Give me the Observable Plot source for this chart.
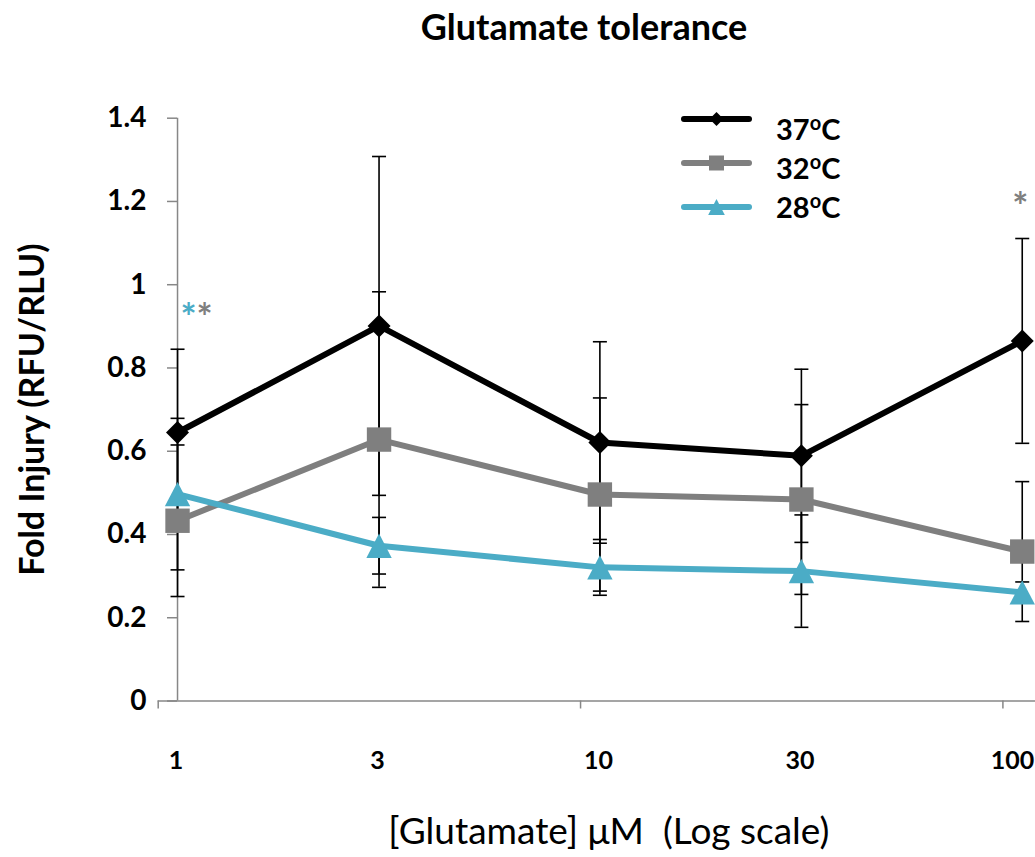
<!DOCTYPE html>
<html><head><meta charset="utf-8">
<script src="https://cdn.jsdelivr.net/npm/d3@7"></script>
<script src="https://cdn.jsdelivr.net/npm/@observablehq/plot@0.6"></script>
<style>
body{margin:0;background:#fff;font-family:Lato,sans-serif;}
#title{height:60px;width:1035px;font-weight:bold;font-size:36px;text-align:center;line-height:52px;padding-left:133px;box-sizing:border-box;color:#000;}
</style></head><body>
<div id="title">Glutamate tolerance</div>
<div id="chart"></div>
<script>
// ---- data ----
const doses = [1, 3, 10, 30, 100];
const doseLabels = ["1", "3", "10", "30", "100"];
const seriesNames = ["37", "32", "28"];
const seriesColors = ["#000000", "#7f7f7f", "#4bacc6"];
const mean37 = [0.645, 0.901, 0.621, 0.589, 0.865];
const err37  = [0.200, 0.407, 0.242, 0.208, 0.246];
const mean32 = [0.433, 0.628, 0.496, 0.484, 0.359];
const err32  = [0.182, 0.355, 0.232, 0.228, 0.168];
const mean28 = [0.497, 0.373, 0.321, 0.312, 0.261];
const err28  = [0.182, 0.068, 0.067, 0.135, 0.025];
const yTicks = [0, 0.2, 0.4, 0.6, 0.8, 1.0, 1.2, 1.4];
const xAxisTicks = [0.9, 9, 90];
const sigDose = [1, 1, 100];
const sigSeries = ["28", "32", "32"];
const yTitle = "Fold Injury (RFU/RLU)";
const xTitle = "[Glutamate] \u03bcM \u00a0(Log scale)";

// ---- symbols ----
const rad = size => Math.sqrt(size / Math.PI);
const diamondSym = {draw(ctx, size) { const h = rad(size); ctx.moveTo(0, -h); ctx.lineTo(h, 0); ctx.lineTo(0, h); ctx.lineTo(-h, 0); ctx.closePath(); }};
const squareSym = {draw(ctx, size) { const h = rad(size); ctx.rect(-h, -h, 2 * h, 2 * h); }};
const triangleSym = {draw(ctx, size) { const h = rad(size); ctx.moveTo(0, -h); ctx.lineTo(h * 1.04, h); ctx.lineTo(-h * 1.04, h); ctx.closePath(); }};
const capSym = {draw(ctx, size) { const h = rad(size); ctx.moveTo(-h, 0); ctx.lineTo(h, 0); }};
const symbols = [diamondSym, squareSym, triangleSym];
const markerR = [11.5, 12.2, 12.2];
const legendR = [7, 7.5, 8];

const means = [mean37, mean32, mean28];
const errs = [err37, err32, err28];
const rows = [];
seriesNames.forEach((s, si) => doses.forEach((d, i) => rows.push({series: s, si, dose: d, mean: means[si][i], err: errs[si][i]})));

// significance stars
const sig = sigDose.map((d, k) => {
  const i = doses.indexOf(d);
  const top = d3.max(means, (m, si) => m[i] + errs[si][i]);
  const same = sigDose.filter(x => x === d).length;
  const rank = sigDose.slice(0, k).filter(x => x === d).length;
  return {dose: d, y: top + 0.095, color: seriesColors[seriesNames.indexOf(sigSeries[k])], dx: same > 1 ? 11 + 16 * rank : -2};
});

const axisGray = "#878787";
const xShift = 19.3; // y axis crosses at dose 1
const lastDose = doses[doses.length - 1];
const marks = [];
// axis lines
marks.push(Plot.ruleY([0], {x1: 0.9, x2: 107.5, stroke: axisGray, strokeWidth: 1.5}));
marks.push(Plot.ruleX([1], {y1: 0, y2: 1.4, stroke: axisGray, strokeWidth: 1.5}));
marks.push(Plot.axisY(yTicks, {label: null, dx: xShift, tickSize: 10, tickPadding: 21, stroke: axisGray, strokeWidth: 1.5, fill: "#000", fontSize: 28, fontWeight: "bold", fontFamily: "Lato", tickFormat: d => String(+d.toFixed(1))}));
marks.push(Plot.axisX(xAxisTicks, {label: null, tickSize: 8, stroke: axisGray, strokeWidth: 1.5, tickFormat: () => ""}));
marks.push(Plot.axisX(doses.filter(d => d !== lastDose), {label: null, tickSize: 0, tickPadding: 50, dx: -1.5, fill: "#000", fontSize: 25, fontWeight: "bold", fontFamily: "Lato", tickFormat: d => doseLabels[doses.indexOf(d)]}));
marks.push(Plot.axisX([lastDose], {label: null, tickSize: 0, tickPadding: 50, dx: 12, textAnchor: "end", fill: "#000", fontSize: 25, fontWeight: "bold", fontFamily: "Lato", tickFormat: d => doseLabels[doses.indexOf(d)]}));
// error bars
marks.push(Plot.ruleX(rows, {x: "dose", y1: d => d.mean - d.err, y2: d => d.mean + d.err, stroke: "#000", strokeWidth: 1.6}));
marks.push(Plot.dot(rows, {x: "dose", y: d => d.mean - d.err, symbol: capSym, r: 7, fill: "none", stroke: "#000", strokeWidth: 1.6}));
marks.push(Plot.dot(rows, {x: "dose", y: d => d.mean + d.err, symbol: capSym, r: 7, fill: "none", stroke: "#000", strokeWidth: 1.6}));
// series
seriesNames.forEach((s, si) => {
  const data = rows.filter(r => r.series === s);
  marks.push(Plot.line(data, {x: "dose", y: "mean", stroke: seriesColors[si], strokeWidth: 6, strokeLinejoin: "round"}));
  marks.push(Plot.dot(data, {x: "dose", y: "mean", symbol: symbols[si], r: markerR[si], fill: seriesColors[si], stroke: "none"}));
});
// stars
sig.forEach(s => {
  marks.push(Plot.text([s], {x: "dose", y: "y", text: () => "*", fill: s.color, dx: s.dx, dy: 9, fontSize: 38, fontFamily: "Lato", fontWeight: "bold"}));
});
// titles
marks.push(Plot.text([yTitle], {frameAnchor: "left", textAnchor: "middle", lineAnchor: "middle", rotate: -90, dx: -125, fontSize: 34, fontWeight: "bold", fontFamily: "Lato", fill: "#000"}));
marks.push(Plot.text([xTitle], {frameAnchor: "bottom", textAnchor: "middle", lineAnchor: "middle", dy: 131.5, dx: 12, fontSize: 37, fontFamily: "Lato", fill: "#000"}));
// legend
marks.push(() => {
  const g = d3.create("svg:g");
  const lineY = [59, 103, 147];
  const textY = [70, 109, 148];
  seriesNames.forEach((s, si) => {
    g.append("line").attr("x1", 684).attr("x2", 749).attr("y1", lineY[si]).attr("y2", lineY[si])
      .attr("stroke", seriesColors[si]).attr("stroke-width", 6).attr("stroke-linecap", "round");
    const p = d3.path();
    symbols[si].draw(p, Math.PI * legendR[si] * legendR[si]);
    g.append("path").attr("d", p.toString()).attr("transform", `translate(716.5,${lineY[si]})`).attr("fill", seriesColors[si]);
    const t = g.append("text").attr("x", 776).attr("y", textY[si]).attr("dy", "0.36em").attr("text-anchor", "start")
      .attr("font-family", "Lato").attr("font-weight", "bold").attr("font-size", 29).attr("fill", "#000");
    t.append("tspan").text(s);
    t.append("tspan").attr("dy", -10).attr("font-size", 20).text("o");
    t.append("tspan").attr("dy", 10).text("C");
  });
  return g.node();
});

const chart = Plot.plot({
  width: 1035,
  height: 797,
  marginLeft: 157.7,
  marginRight: 0,
  marginTop: 57.7,
  marginBottom: 156.5,
  style: {background: "#fff", overflow: "visible"},
  x: {type: "log", domain: [0.9, 107.5], axis: null},
  y: {domain: [0, 1.4], axis: null},
  marks
});
document.getElementById("chart").appendChild(chart);
</script>
</body></html>
